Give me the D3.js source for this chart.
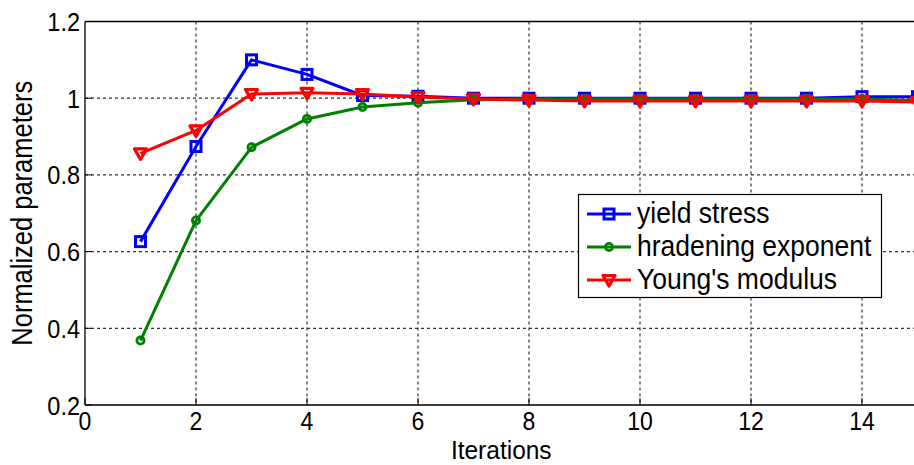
<!DOCTYPE html>
<html>
<head>
<meta charset="utf-8">
<script src="https://cdn.jsdelivr.net/npm/d3@7"></script>
<style>
html,body{margin:0;padding:0;background:#fff;overflow:hidden;}
text{font-family:"Liberation Sans",Arial,sans-serif;fill:#000;}
</style>
</head>
<body>
<svg id="chart" width="914" height="465"></svg>
<script>
const iterations = [1,2,3,4,5,6,7,8,9,10,11,12,13,14,15];
const yieldStress = [0.626,0.874,1.100,1.062,1.007,1.005,1.000,1.000,1.000,1.000,1.000,1.000,1.000,1.004,1.004];
const hardeningExponent = [0.368,0.681,0.872,0.946,0.977,0.988,0.996,0.998,0.998,0.998,0.998,0.998,0.998,0.998,0.994];
const youngsModulus = [0.856,0.916,1.011,1.014,1.011,1.003,0.998,0.995,0.993,0.993,0.993,0.993,0.993,0.993,0.990];
const seriesNames = ["yield stress","hradening exponent","Young's modulus"];
const xTicks = [0,2,4,6,8,10,12,14];
const yTicks = [0.2,0.4,0.6,0.8,1.0,1.2];
const xLabel = "Iterations";
const yLabel = "Normalized parameters";

const svg = d3.select("#chart");
const L = 85, R = 917.5, T = 21.5, B = 405;
const x = d3.scaleLinear().domain([0,15]).range([L,R]);
const y = d3.scaleLinear().domain([0.2,1.2]).range([B,T]);
const SY = 1.13;

// grid
const grid = svg.append("g");
grid.selectAll("line.gx").data(xTicks.filter(d=>d>0)).enter().append("line")
  .attr("x1",d=>x(d)).attr("x2",d=>x(d)).attr("y1",T).attr("y2",B)
  .attr("stroke","#333").attr("stroke-width",1.2).attr("stroke-dasharray","3,3");
grid.selectAll("line.gy").data(yTicks.filter(d=>d>0.2 && d<1.2)).enter().append("line")
  .attr("x1",L).attr("x2",R).attr("y1",d=>y(d)).attr("y2",d=>y(d))
  .attr("stroke","#333").attr("stroke-width",1.2).attr("stroke-dasharray","3,3");

// axes frame
svg.append("line").attr("x1",L).attr("x2",R).attr("y1",T).attr("y2",T).attr("stroke","#000").attr("stroke-width",1.3);
svg.append("line").attr("x1",L).attr("x2",R).attr("y1",B).attr("y2",B).attr("stroke","#000").attr("stroke-width",1.3);
svg.append("line").attr("x1",L).attr("x2",L).attr("y1",T).attr("y2",B).attr("stroke","#000").attr("stroke-width",1.3);

// ticks (inward)
svg.selectAll("line.tx").data(xTicks).enter().append("line")
  .attr("x1",d=>x(d)).attr("x2",d=>x(d)).attr("y1",B).attr("y2",B-7).attr("stroke","#000");
svg.selectAll("line.ty").data(yTicks).enter().append("line")
  .attr("x1",L).attr("x2",L+7).attr("y1",d=>y(d)).attr("y2",d=>y(d)).attr("stroke","#000");

// tick labels
const fmt = d => (Math.abs(d-1)<1e-9 ? "1" : d3.format(".1f")(d));
svg.selectAll("text.xt").data(xTicks).enter().append("text")
  .attr("transform",d=>`translate(${x(d)},430) scale(1,${SY})`)
  .attr("text-anchor","middle").attr("font-size",23).text(d=>d);
svg.selectAll("text.yt").data(yTicks).enter().append("text")
  .attr("transform",d=>`translate(80,${y(d)+9.5}) scale(1,${SY})`)
  .attr("text-anchor","end").attr("font-size",23.5).text(fmt);

// axis labels
svg.append("text").attr("transform",`translate(${(L+R)/2},459) scale(1,1.08)`)
  .attr("text-anchor","middle").attr("font-size",24.5).text(xLabel);
svg.append("text").attr("transform",`translate(32,${(T+B)/2}) rotate(-90) scale(1,${SY})`)
  .attr("text-anchor","middle").attr("font-size",25.5).text(yLabel);

const series = [
  {name:seriesNames[0], values:yieldStress, color:"#0000FF", marker:"square"},
  {name:seriesNames[1], values:hardeningExponent, color:"#008000", marker:"circle"},
  {name:seriesNames[2], values:youngsModulus, color:"#FF0000", marker:"tri"}
];

function drawMarker(g, type, color, cx, cy){
  if(type==="square"){
    g.append("rect").attr("x",cx-5).attr("y",cy-5).attr("width",10).attr("height",10)
      .attr("fill","none").attr("stroke",color).attr("stroke-width",3);
  } else if(type==="circle"){
    g.append("circle").attr("cx",cx).attr("cy",cy).attr("r",3.6)
      .attr("fill","none").attr("stroke",color).attr("stroke-width",2.8);
  } else {
    g.append("path").attr("d",`M${cx-6},${cy-4.5}L${cx+6},${cy-4.5}L${cx},${cy+6}Z`)
      .attr("fill","none").attr("stroke",color).attr("stroke-width",3.2).attr("stroke-linejoin","round");
  }
}

const plot = svg.append("g");
const line = d3.line().x((d,i)=>x(iterations[i])).y(d=>y(d));
series.forEach(s=>{
  plot.append("path").attr("d",line(s.values)).attr("fill","none")
    .attr("stroke",s.color).attr("stroke-width",3).attr("stroke-linejoin","round");
  const mg = plot.append("g");
  s.values.forEach((v,i)=>drawMarker(mg,s.marker,s.color,x(iterations[i]),y(v)));
});

// legend
const lg = svg.append("g");
lg.append("rect").attr("x",578.5).attr("y",194.5).attr("width",303).attr("height",103)
  .attr("fill","#fff").attr("stroke","#000").attr("stroke-width",1.2);
const rowY = [214,247,280];
series.forEach((s,i)=>{
  lg.append("line").attr("x1",587).attr("x2",631).attr("y1",rowY[i]).attr("y2",rowY[i])
    .attr("stroke",s.color).attr("stroke-width",3);
  drawMarker(lg,s.marker,s.color,609,rowY[i]);
  lg.append("text").attr("transform",`translate(637,${rowY[i]+9}) scale(1,1.08)`)
    .attr("font-size",26.5).text(s.name);
});
</script>
</body>
</html>
